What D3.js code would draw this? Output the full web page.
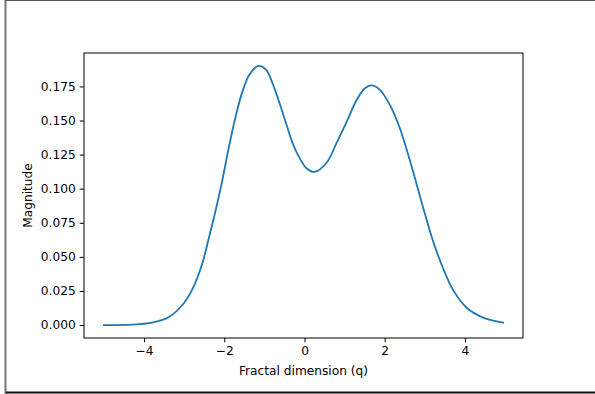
<!DOCTYPE html>
<html>
<head>
<meta charset="utf-8">
<script src="https://cdn.jsdelivr.net/npm/d3@7"></script>
<style>
  body { margin: 0; background: #fff; }
  svg { display: block; font-family: "DejaVu Sans", sans-serif; }
  .axis text { font-size: 12.2px; fill: #000; font-family: "DejaVu Sans", sans-serif; }
  .axis path, .axis line { stroke: #000; stroke-width: 1; }
</style>
</head>
<body>
<script>
// values
var qValues = [-5.0, -4.3, -3.8, -3.4, -3.05, -2.8, -2.55, -2.4, -2.2, -2.05,
    -1.875, -1.7, -1.55, -1.375, -1.15, -0.95, -0.8, -0.625, -0.45, -0.3,
    -0.125, 0.05, 0.25, 0.55, 0.8, 1.05, 1.3, 1.5, 1.67, 1.875,
    2.125, 2.375, 2.625, 2.95, 3.2, 3.45, 3.7, 4.05, 4.45, 4.95];
var magnitude = [0.0000, 0.0003, 0.0018, 0.0055, 0.0145, 0.026, 0.045, 0.062, 0.086, 0.106,
    0.132, 0.155, 0.171, 0.1836, 0.190, 0.187, 0.1775, 0.163, 0.147, 0.1336,
    0.1226, 0.115, 0.1123, 0.119, 0.1336, 0.149, 0.165, 0.1735, 0.1757, 0.1726,
    0.1616, 0.1445, 0.121, 0.087, 0.062, 0.042, 0.026, 0.0125, 0.0055, 0.0018];
var xTicks = [-4, -2, 0, 2, 4];
var yTicks = [0, 0.025, 0.05, 0.075, 0.1, 0.125, 0.15, 0.175];

var width = 595,
    height = 394;

var svg = d3.select("body")
    .append("svg")
    .attr("width", width)
    .attr("height", height);

//figure frame (left, top, bottom edges only)
svg.append("line")
    .attr("x1", 5.5).attr("y1", 0).attr("x2", 5.5).attr("y2", 394)
    .attr("stroke", "#777").attr("stroke-width", 2);
svg.append("line")
    .attr("x1", 5).attr("y1", 0.5).attr("x2", 595).attr("y2", 0.5)
    .attr("stroke", "#555").attr("stroke-width", 1);
svg.append("line")
    .attr("x1", 6).attr("y1", 392.5).attr("x2", 595).attr("y2", 392.5)
    .attr("stroke", "#111").attr("stroke-width", 2);

//plot box
var plotLeft = 84, plotRight = 523, plotTop = 53, plotBottom = 338;

//matplotlib style 5% margins
var xmin = d3.min(qValues), xmax = d3.max(qValues),
    ymin = d3.min(magnitude), ymax = d3.max(magnitude);
var xpad = (xmax - xmin) * 0.05, ypad = (ymax - ymin) * 0.05;

var x = d3.scaleLinear()
    .domain([xmin - xpad, xmax + xpad])
    .range([plotLeft, plotRight]);

var y = d3.scaleLinear()
    .domain([ymin - ypad, ymax + ypad])
    .range([plotBottom, plotTop]);

var minus = function(v){ return String(v).replace("-", "\u2212"); };

svg.append("g")
    .attr("class", "axis")
    .attr("transform", "translate(0," + plotBottom + ")")
    .call(d3.axisBottom(x).tickValues(xTicks).tickSize(4.3).tickPadding(4)
        .tickFormat(function(d){ return minus(d); }))
    .call(function(g){ g.select(".domain").remove(); });

svg.append("g")
    .attr("class", "axis")
    .attr("transform", "translate(" + plotLeft + ",0)")
    .call(d3.axisLeft(y).tickValues(yTicks).tickSize(4.3).tickPadding(4)
        .tickFormat(d3.format(".3f")))
    .call(function(g){ g.select(".domain").remove(); });

var line = d3.line()
    .x(function(d, i){ return x(qValues[i]); })
    .y(function(d){ return y(d); })
    .curve(d3.curveCatmullRom.alpha(0.5));

svg.append("path")
    .datum(magnitude)
    .attr("fill", "none")
    .attr("stroke", "#1f77b4")
    .attr("stroke-width", 1.8)
    .attr("stroke-linecap", "square")
    .attr("d", line);

//axes frame
svg.append("rect")
    .attr("x", plotLeft).attr("y", plotTop)
    .attr("width", plotRight - plotLeft).attr("height", plotBottom - plotTop)
    .attr("fill", "none")
    .attr("stroke", "#000")
    .attr("stroke-width", 1);

svg.append("text")
    .attr("x", (plotLeft + plotRight) / 2)
    .attr("y", 375)
    .attr("text-anchor", "middle")
    .attr("font-size", 12.2)
    .text("Fractal dimension (q)");

svg.append("text")
    .attr("transform", "translate(32," + (plotTop + plotBottom) / 2 + ") rotate(-90)")
    .attr("text-anchor", "middle")
    .attr("font-size", 12.2)
    .text("Magnitude");
</script>
</body>
</html>
